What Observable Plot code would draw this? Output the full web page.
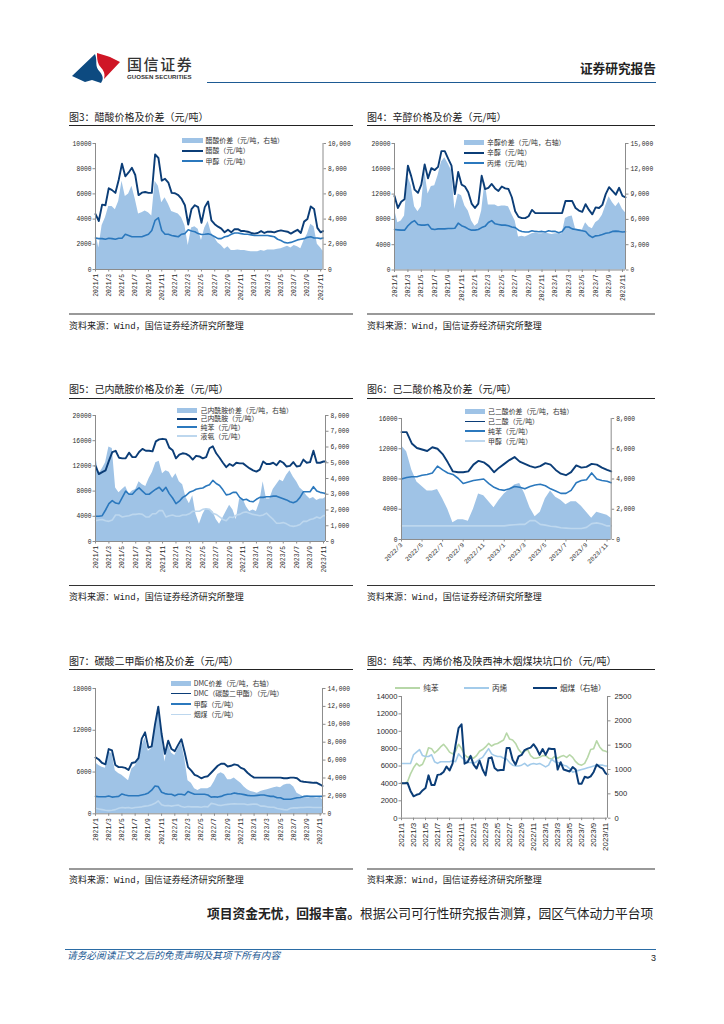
<!DOCTYPE html>
<html><head><meta charset="utf-8">
<script src="https://cdn.jsdelivr.net/npm/d3@7"></script>
<script src="https://cdn.jsdelivr.net/npm/@observablehq/plot@0.6"></script>
<style>
html,body{margin:0;padding:0;background:#fff}
#page{position:relative;width:724px;height:1024px;overflow:hidden;font-family:"Noto Sans CJK SC",sans-serif;color:#222}
.t{position:absolute;white-space:nowrap;line-height:1}
.r{position:absolute}
svg{position:absolute;overflow:visible;background:transparent}
</style></head><body><div id="page"></div>
<script>
const acidPrice=[4400,3850,5150,5100,6450,6300,6080,7100,8400,7400,7700,8070,7500,5900,6100,6150,6080,6080,9130,8850,7050,7200,6900,6080,6050,5900,5600,5100,3570,4800,5100,4950,3700,4950,5400,3900,3600,3400,3250,2950,3150,2950,3200,3200,3050,3050,3000,2900,2850,2900,3050,2900,3000,3000,2950,3050,3100,3050,3000,2850,3000,3150,2900,3800,4000,5000,4800,3300,2950,3050];
const acidMethanol=[2500,2450,2450,2400,2480,2450,2400,2480,2480,2800,2700,2600,2600,2600,2600,2700,2800,3100,3900,4100,3100,2800,2800,2700,2650,2600,2800,2850,3150,3050,3000,2850,2780,2800,2830,2750,2600,2450,2450,2600,2650,2800,2900,2900,2850,2800,2800,2750,2700,2700,2700,2700,2700,2650,2600,2400,2300,2150,2100,2150,2250,2350,2400,2450,2550,2600,2500,2500,2450,2500];
const acidSpread=[3000,1700,3500,4100,5000,5000,4750,5400,7000,5800,6000,6600,5600,4400,4500,4650,4500,4250,7000,6600,5300,5700,5200,4600,4500,4400,4100,3500,1900,3300,3400,3200,2300,3300,3800,2900,2500,2100,1900,1600,1800,1500,1500,1550,1500,1500,1450,1400,1400,1400,1500,1450,1550,1550,1550,1600,1650,1750,1850,1700,1900,1800,1650,2300,2800,3600,3400,2000,1700,1450];

const octanolPrice=[11700,9800,10800,11200,16500,14800,12700,12200,13500,16700,14500,16100,15800,16300,18800,18800,17600,16500,12000,15500,13500,13200,12300,10500,9800,10500,14900,12800,13000,13600,12900,12500,13200,12900,12800,11500,9300,8400,8200,8200,8500,9500,9000,9000,9000,9000,9000,9000,9000,9000,9000,10900,10900,10900,9800,9400,9200,10400,9500,8800,9900,9800,10300,12000,13100,12500,11900,13000,11700,11500];
const octanolPropylene=[6400,6350,6300,6300,7000,7500,7800,7200,7100,7100,7200,6500,6400,6500,6500,6500,6550,6550,6600,7400,7000,6800,6500,6300,6300,6400,6700,6900,7500,7800,7300,7200,7100,7100,7000,6800,6700,6300,6100,6000,6000,6200,6100,6050,6100,6000,6200,6100,6100,5900,6100,6800,6800,6500,6400,6300,6200,6100,5500,5150,5400,5450,5600,5800,5900,6100,6150,6100,6000,6050];
const octanolSpread=[7200,5600,5800,6400,11100,10000,7500,6900,7500,11800,9000,9900,10000,11200,12800,13300,12600,11800,7200,9000,8800,7600,7000,5800,5200,5500,7000,10500,7700,7700,7700,7500,7600,7600,7500,6600,5800,3900,4000,3900,4100,4300,4400,4300,4300,4400,4300,4200,4300,4300,4300,6100,6300,6400,4900,4800,4700,5600,5100,4900,5600,5900,6500,7600,8700,8000,7500,8000,7200,6800];

const caproPrice=[12000,10700,11000,11300,12800,14200,14400,13300,13200,13200,14100,13400,13400,14200,14700,14400,14400,14300,15900,16200,16300,16200,14900,14500,13200,13800,14000,13900,13600,13000,13600,13500,13200,13400,14800,15100,14000,13300,12500,11800,12300,12000,12500,12400,12400,12000,11600,11300,11100,11400,12700,12300,12300,12500,12100,12800,12500,11900,12000,12600,11900,12000,13000,12500,12600,14400,12500,12500,12700,12700];
const caproBenzene=[4000,4000,4100,5000,6000,6500,6100,6000,7000,8000,7500,7500,8100,8500,8000,7500,7500,7900,8300,8600,8000,8600,7600,6900,6000,6400,7000,7300,7800,8000,8300,8400,8500,8800,9000,9700,9200,8900,8200,7400,7500,7800,7800,7000,6600,6700,6400,6300,6700,7000,7000,7100,7100,7200,7200,7000,6800,6600,6300,6150,6400,7000,7900,7900,7900,8700,8000,7800,7700,7600];
const caproAmmonia=[3300,3400,3500,3300,3200,3400,4200,4200,3900,4000,4100,4300,4300,4400,4300,3900,3900,4400,4400,4900,4900,3900,4100,4200,4000,4000,4200,4200,4400,4800,4800,4800,5100,5200,5100,4500,4300,3900,3500,3300,3900,3800,4200,4300,4600,4700,4500,4300,4200,4100,4200,4500,4000,3500,2900,2900,3000,2800,2500,2400,2500,2700,3200,3200,3500,3600,3900,3700,4100,4100];
const caproSpread=[5500,4300,4600,5000,6000,5900,3400,3100,3300,3500,3000,3200,3300,3800,3600,3500,4000,4400,5000,5100,4300,4500,4400,4000,4300,3800,3600,2800,2400,2900,1700,1100,1700,2100,2000,1900,1400,1100,1500,1900,2300,2000,1400,2700,2700,2200,1900,2000,1900,2500,3800,2700,2700,3300,3600,3900,3800,4200,4500,4100,3800,3400,3200,2900,2700,2800,2600,2700,2700,2800];

const adipicPrice=[14200,14200,12700,12100,11900,11700,12200,12000,11300,10200,9000,8900,8900,9000,9900,10400,10200,9700,8900,9500,10000,10500,10900,10300,10000,9700,9500,9700,10100,9900,9200,8700,8500,8900,9800,9500,9600,10000,9900,9500,9200,9000];
const adipicBenzene=[8000,8200,8300,8300,8500,8600,8800,9700,9200,8800,8600,8100,7400,7600,7800,7900,8000,7400,6900,6600,6500,6700,7000,6900,6700,7000,7200,7300,7100,6700,6400,6100,6100,6500,7500,7800,7900,8800,8000,7800,7700,7500];
const adipicMethanol=[1800,1800,1800,1800,1800,1800,1800,1800,1800,1800,1800,1800,1800,1800,1800,1800,1800,1800,1800,1800,1800,1900,1950,2000,2000,2500,2500,2000,1900,1750,1700,1550,1500,1450,1450,1450,1600,2100,2200,2050,1800,1800];
const adipicSpread=[6200,5800,4600,3800,3500,3200,3200,3300,2700,2000,1100,1300,1300,1200,2000,3000,2900,2500,2100,2600,3000,3300,3600,3700,3000,2100,1500,1800,2700,3200,2800,2600,2300,2500,2500,2200,1800,1400,1800,1700,1600,1400];

const dmcPrice=[8100,7800,7300,7100,9300,9100,7000,6700,6700,6600,6300,7300,7400,8000,10800,11700,9500,9700,12800,15400,11500,8600,10500,9300,9000,9900,10700,8800,6700,6200,5600,5400,5100,5300,5400,5900,6400,6900,7200,7200,6800,6900,7100,7000,6600,6400,5900,5500,5200,5200,5200,5200,5200,5200,5200,5200,5200,5100,5100,5200,5200,5100,4700,4600,4550,4500,4450,4450,4200,4000];
const dmcMethanol=[2500,2450,2450,2450,2550,2400,2450,2500,2850,2700,2600,2600,2600,2600,2700,2800,3000,3400,4000,3900,3100,2900,2800,2800,2600,2800,2800,2700,3200,3000,2800,2800,2800,2800,2700,2400,2450,2400,2500,2700,2800,2850,3000,2900,2850,2750,2650,2600,2600,2650,2700,2700,2600,2500,2500,2300,2300,2100,2100,2100,2200,2300,2350,2500,2550,2500,2500,2500,2500,2500];
const dmcCoal=[800,700,600,500,450,500,600,800,900,850,900,800,900,950,1000,1100,1150,1300,1500,1850,1300,1150,1200,1100,1200,1250,1050,950,1050,1000,1000,1000,950,1050,1000,1500,1400,1250,1200,1300,1350,1400,1450,1400,1400,1400,1300,1350,1400,1350,1100,1100,1000,950,950,750,700,600,550,800,850,850,900,900,950,950,900,900,900,900];
const dmcSpread=[5700,5400,5200,5100,6900,6700,4800,4500,4300,4000,3700,5000,5300,6000,7500,8500,7000,7300,9500,12000,9000,5800,7800,6800,6500,7300,7900,6200,3700,3400,2800,2600,2800,2800,2800,3000,3600,4400,4600,4400,3800,3800,4000,3700,3400,3000,2700,2500,2400,2300,2500,2600,2700,2800,2900,3000,2900,3200,3300,3300,3000,2300,2100,1900,1800,1800,1800,1700,1800,1600];

const benzenePrice=[4000,4000,4200,5100,5800,6300,6000,6200,7000,8100,8000,7500,7800,8200,8500,8100,7600,7400,7700,8500,8000,7300,7000,7100,6900,7200,7700,7900,8200,8600,8300,8500,8600,8800,9000,9800,9100,9000,8600,7900,7500,7700,7900,7200,6900,6900,7000,7200,7200,6900,6800,7100,6900,7100,7200,7000,7300,7000,6500,6200,6100,6300,7000,7900,8000,8900,8200,7800,7700,7600];
const propylenePrice=[6300,6300,6300,6300,7300,7600,7900,7200,7100,7100,7300,6500,6300,6500,6500,6500,6500,6600,6500,7400,7000,6700,6400,6400,6300,6500,6800,7000,7500,8000,7400,7200,7100,7100,6900,6800,6400,6100,6000,6000,6100,6300,6000,6200,6300,6200,6300,6100,5900,6100,6800,6500,6400,6300,6100,6000,5700,5300,5400,5500,5600,5700,5800,5900,6000,6100,6100,6100,6000,6000];
const coalPrice=[720,720,725,560,450,480,500,570,620,880,680,680,890,900,950,1060,980,1120,1500,1850,1930,1120,1150,1280,1100,1020,1180,1000,880,1230,1250,1030,980,990,990,1440,1440,1200,1100,1270,1300,1400,1430,1450,1520,1430,1300,1420,1300,1430,1420,1420,1000,1150,1000,980,960,1050,1000,710,710,850,830,860,950,1100,1050,1020,920,900];

const labels3y=["2021/1","2021/3","2021/5","2021/7","2021/9","2021/11","2022/1","2022/3","2022/5","2022/7","2022/9","2022/11","2023/1","2023/3","2023/5","2023/7","2023/9","2023/11"];
const labels6=["2022/3","2022/5","2022/7","2022/9","2022/11","2023/1","2023/3","2023/5","2023/7","2023/9","2023/11"];

const navy="#0b3d77",mid="#2b78bd",pale="#bdd7ee",fillBlue="#9fc3e6",axisGray="#8c8c8c",ink="#2a2a2a";
const green="#b7d7a8",sky="#a3cbea";
const monoFont='"Liberation Mono",monospace',sansFont='"Liberation Sans",sans-serif';
const page=document.getElementById("page");

function text(str,x,y,size,opt={}){const e=document.createElement("div");e.className="t";e.textContent=str;
  e.style.left=x+"px";e.style.top=(y-size/2)+"px";e.style.fontSize=size+"px";
  if(opt.color)e.style.color=opt.color;if(opt.weight)e.style.fontWeight=opt.weight;if(opt.italic)e.style.fontStyle="italic";
  if(opt.family)e.style.fontFamily=opt.family;if(opt.right!=null){e.style.left="auto";e.style.right=(724-opt.right)+"px"}
  if(opt.ls)e.style.letterSpacing=opt.ls+"px";page.appendChild(e);return e}
function rect(x,y,w,h,c){const e=document.createElement("div");e.className="r";Object.assign(e.style,{left:x+"px",top:y+"px",width:w+"px",height:h+"px",background:c});page.appendChild(e);return e}
const series=(vals,end)=>vals.map((v,i)=>({m:Math.min(i/2,end),v}));

function chart(c){
  const ml=32,mr=34,mt=6,mb=38;
  const W=c.right-c.left,H=c.bottom-c.top;
  const k=c.leftMax/c.rightMax;
  const rs=c.rightSep===false?d3.format("d"):d3.format(",");
  const font=c.font||monoFont,fs=c.fs||6.3;
  const marks=[];
  if(c.area)marks.push(Plot.areaY(series(c.area,c.end),{x:"m",y:d=>d.v*k,fill:fillBlue}));
  for(const l of c.lines)marks.push(Plot.lineY(series(l.vals,c.end),{x:"m",y:d=>d.v*(l.rightAxis?k:1),stroke:l.color,strokeWidth:l.w||1.6}));
  marks.push(
    Plot.ruleX([0],{stroke:axisGray,strokeWidth:1}),
    Plot.ruleX([c.end],{stroke:axisGray,strokeWidth:1}),
    Plot.ruleY([0],{stroke:axisGray,strokeWidth:1}),
    Plot.axisY(c.leftTicks,{anchor:"left",tickSize:2.5,tickPadding:1.5,stroke:axisGray,fill:ink,fontSize:fs,fontFamily:font,tickFormat:d=>String(d),label:null}),
    Plot.axisY(c.rightTicks.map(t=>t*k),{anchor:"right",tickSize:2.5,tickPadding:c.rightPad||2.5,stroke:axisGray,fill:ink,fontSize:fs,fontFamily:font,tickFormat:d=>rs(Math.round(d/k)),label:null}),
    Plot.axisX(c.xLabels.map((_,i)=>i*2),{anchor:"bottom",tickSize:2.5,tickPadding:2,stroke:axisGray,fill:ink,fontSize:c.xfs||fs,fontFamily:font,tickRotate:c.rot,tickFormat:d=>c.xLabels[d/2],label:null})
  );
  const svg=Plot.plot({width:W+ml+mr,height:H+mt+mb,marginLeft:ml,marginRight:mr,marginTop:mt,marginBottom:mb,
    x:{type:"linear",domain:[0,c.end]},y:{type:"linear",domain:[0,c.leftMax]},marks,style:{background:"transparent",overflow:"visible"}});
  svg.style.left=(c.left-ml)+"px";svg.style.top=(c.top-mt)+"px";
  page.appendChild(svg);
}
function frame(colX,w,title,ty,ry,by,bh,bc,sy){
  text(title,colX,ty,10);
  rect(colX,ry,w,1,"#222");
  rect(colX,by,w,bh,bc);
  const s=text("资料来源：",colX,sy,9);
  s.innerHTML='资料来源：<span style="font-family:\'Liberation Mono\',monospace">Wind</span>，国信证券经济研究所整理';
}
function legend(items,swX,swW,txX,size){
  for(const it of items){
    if(it.area)rect(swX,it.y-2.5,swW,5,fillBlue);else rect(swX,it.y-.9,swW,1.8,it.color);
    text(it.label,txX,it.y,size,{color:"#333"});
  }
}

/* header */
const ns="http://www.w3.org/2000/svg";
const logo=document.createElementNS(ns,"svg");logo.setAttribute("width",52);logo.setAttribute("height",34);logo.style.left="70px";logo.style.top="52px";
logo.innerHTML='<path d="M2 24 L25 2 C28 10 24 14 30 20 C34 25 33 28 31 31 L22 28 L15 30 Z" fill="#0d4a80"/><path d="M27 1 L37 4 L40 5 L50 10 L34 27 C36 20 32 17 29 13 C27 9 27 5 27 1 Z" fill="#cf1626"/>';
page.appendChild(logo);
text("国信证券",127,63.5,15,{color:"#333",weight:500,ls:1.6});
text("GUOSEN SECURITIES",127,77,6.1,{color:"#333",family:sansFont,weight:700});
text("证券研究报告",0,68,12.7,{right:656,weight:700,color:"#222"});
rect(207,81.5,449,1.6,"#1d5a93");

/* page frames */
frame(69,284,"图3：醋酸价格及价差（元/吨）",117,125,313,1.8,"#999",325);
frame(367,288,"图4：辛醇价格及价差（元/吨）",117,125,313,1.8,"#999",325);
frame(69,284,"图5：己内酰胺价格及价差（元/吨）",389,398,585,1,"#333",596);
frame(367,288,"图6：己二酸价格及价差（元/吨）",389,398,585,1,"#333",596);
frame(69,284,"图7：碳酸二甲酯价格及价差（元/吨）",661,669,868,1.8,"#999",879);
frame(367,288,"图8：纯苯、丙烯价格及陕西神木烟煤块坑口价（元/吨）",661,669,868,1.8,"#999",879);

chart({left:95,right:322.5,top:142.5,bottom:268.5,end:34.35,leftMax:10000,rightMax:10000,
  leftTicks:[0,2000,4000,6000,8000,10000],rightTicks:[0,2000,4000,6000,8000,10000],xLabels:labels3y,rot:-90,
  area:acidSpread,lines:[{vals:acidMethanol,color:mid},{vals:acidPrice,color:navy,w:1.9}]});
legend([{area:1,y:140,label:"醋酸价差（元/吨，右轴）"},{color:navy,y:150.7,label:"醋酸（元/吨）"},{color:mid,y:161,label:"甲醇（元/吨）"}],182,21,205.5,6.9);

chart({left:393.5,right:624.5,top:142.5,bottom:269,end:34.45,leftMax:20000,rightMax:15000,
  leftTicks:[0,4000,8000,12000,16000,20000],rightTicks:[0,3000,6000,9000,12000,15000],xLabels:labels3y,rot:-90,
  area:octanolSpread,lines:[{vals:octanolPropylene,color:mid},{vals:octanolPrice,color:navy,w:1.9}]});
legend([{area:1,y:142,label:"辛醇价差（元/吨，右轴）"},{color:navy,y:152.7,label:"辛醇（元/吨）"},{color:mid,y:163,label:"丙烯（元/吨）"}],464,20,487,6.9);

chart({left:95,right:325,top:415,bottom:541,end:34.3,leftMax:20000,rightMax:8000,
  leftTicks:[0,4000,8000,12000,16000,20000],rightTicks:[0,1000,2000,3000,4000,5000,6000,7000,8000],xLabels:labels3y,rot:-90,
  area:caproSpread,lines:[{vals:caproAmmonia,color:pale},{vals:caproBenzene,color:mid},{vals:caproPrice,color:navy,w:1.9}]});
legend([{area:1,y:410,label:"己内酰胺价差（元/吨，右轴）"},{color:navy,y:418.7,label:"己内酰胺（元/吨）"},{color:mid,y:427.3,label:"纯苯（元/吨）"},{color:pale,y:436,label:"液氨（元/吨）"}],177,20,200.5,6.9);

chart({left:401,right:610.7,top:418.3,bottom:539.3,end:20.4,leftMax:16000,rightMax:8000,
  leftTicks:[0,4000,8000,12000,16000],rightTicks:[0,2000,4000,6000,8000],xLabels:labels6,rot:-45,
  area:adipicSpread,lines:[{vals:adipicMethanol,color:pale},{vals:adipicBenzene,color:mid},{vals:adipicPrice,color:navy,w:1.9}]});
legend([{area:1,y:411.7,label:"己二酸价差（元/吨，右轴）"},{color:navy,y:421.5,label:"己二酸（元/吨）"},{color:mid,y:431.3,label:"纯苯（元/吨）"},{color:pale,y:441,label:"甲醇（元/吨）"}],465,20,488,6.9);

chart({left:95,right:322,top:687.7,bottom:813,end:34.35,leftMax:18000,rightMax:14000,
  leftTicks:[0,6000,12000,18000],rightTicks:[0,2000,4000,6000,8000,10000,12000,14000],xLabels:labels3y,rot:-90,
  area:dmcSpread,lines:[{vals:dmcCoal,color:pale},{vals:dmcMethanol,color:mid},{vals:dmcPrice,color:navy,w:1.9}]});
legend([{area:1,y:683,label:"DMC价差（元/吨，右轴）"},{color:navy,y:693.5,label:"DMC（碳酸二甲酯）（元/吨）"},{color:mid,y:704,label:"甲醇（元/吨）"},{color:pale,y:714.5,label:"烟煤（元/吨）"}],170.7,20,193.7,6.9);

chart({left:400.7,right:606.7,top:696,bottom:817.7,end:34.3,leftMax:14000,rightMax:2500,font:sansFont,fs:7.6,xfs:8,rightSep:false,rightPad:4.5,
  leftTicks:[0,2000,4000,6000,8000,10000,12000,14000],rightTicks:[0,500,1000,1500,2000,2500],xLabels:labels3y,rot:-90,
  lines:[{vals:benzenePrice,color:green},{vals:propylenePrice,color:sky},{vals:coalPrice,color:navy,rightAxis:true,w:2}]});
[[395,25,423.3,"纯苯",green],[464,25,492,"丙烯",sky],[532.7,24.5,560,"烟煤（右轴）",navy]].forEach(([a,b,c,l,col])=>{rect(a,687,b,1.9,col);text(l,c,688,7.6,{color:"#333"})});

/* body and footer */
const body=text("",207,913,12.75);
body.innerHTML='<b style="font-weight:700">项目资金无忧，回报丰富。</b>根据公司可行性研究报告测算，园区气体动力平台项';
rect(65,949,591,1,"#2b6ca5");
text("请务必阅读正文之后的免责声明及其项下所有内容",67,956,9.7,{italic:true,color:"#1d5a93"});
text("3",651,958,9,{family:sansFont});
</script></body></html>
